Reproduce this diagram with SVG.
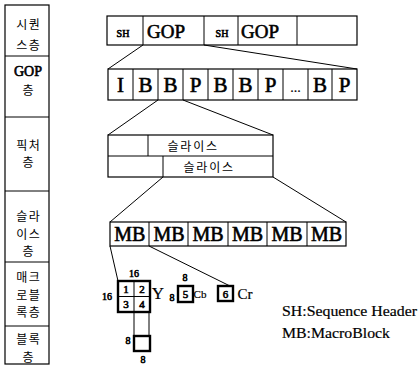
<svg xmlns="http://www.w3.org/2000/svg" width="420" height="366" viewBox="0 0 420 366">
<style>
.box{fill:#fff;stroke:#000;stroke-width:1.2}
.ln{stroke:#000;stroke-width:1;fill:none}
.thick{fill:#fff;stroke:#000;stroke-width:2.4}
.ko{font-family:"Noto Sans CJK KR","Noto Sans",sans-serif;font-size:12px;letter-spacing:1.5px;fill:#000;text-anchor:middle}
.la{font-family:"Liberation Serif","Times New Roman",serif;fill:#000;stroke:#000;stroke-width:0.6;text-anchor:middle}
.lr{font-family:"Liberation Serif","Times New Roman",serif;fill:#000;stroke:#000;stroke-width:0.2;text-anchor:middle}
.lg{font-family:"Liberation Serif","Times New Roman",serif;font-size:15px;fill:#000;stroke:#000;stroke-width:0.2}
</style>
<rect width="420" height="366" fill="#fff"/>

<g id="layers">
<rect class="box" x="5" y="5" width="44" height="359"/>
<line class="ln" x1="5" y1="56" x2="49" y2="56"/>
<line class="ln" x1="5" y1="117" x2="49" y2="117"/>
<line class="ln" x1="5" y1="191" x2="49" y2="191"/>
<line class="ln" x1="5" y1="262" x2="49" y2="262"/>
<line class="ln" x1="5" y1="326" x2="49" y2="326"/>
<text class="ko" x="28.75" y="29">시퀀</text>
<text class="ko" x="28.75" y="50">스층</text>
<text class="la" x="28" y="76" font-size="14">GOP</text>
<text class="ko" x="28.75" y="95">층</text>
<text class="ko" x="28.75" y="150">픽처</text>
<text class="ko" x="28.75" y="167">층</text>
<text class="ko" x="28.75" y="221">슬라</text>
<text class="ko" x="28.75" y="238.5">이스</text>
<text class="ko" x="28.75" y="256">층</text>
<text class="ko" x="28.75" y="282">매크</text>
<text class="ko" x="28.75" y="299.5">로블</text>
<text class="ko" x="28.75" y="317">록층</text>
<text class="ko" x="28.75" y="344">블록</text>
<text class="ko" x="28.75" y="361.5">층</text>
</g>

<g id="sequence">
<rect class="box" x="107" y="16" width="250" height="29"/>
<line class="ln" x1="143" y1="16" x2="143" y2="45"/>
<line class="ln" x1="204" y1="16" x2="204" y2="45"/>
<line class="ln" x1="238" y1="16" x2="238" y2="45"/>
<line class="ln" x1="297" y1="16" x2="297" y2="45"/>
<text class="la" x="123" y="37" font-size="10">SH</text>
<text class="la" x="166" y="38" font-size="19">GOP</text>
<text class="la" x="222" y="37" font-size="10">SH</text>
<text class="la" x="260" y="38" font-size="19">GOP</text>
</g>

<g id="gop">
<rect class="box" x="108" y="69" width="249" height="31"/>
<line class="ln" x1="133" y1="69" x2="133" y2="100"/>
<line class="ln" x1="158" y1="69" x2="158" y2="100"/>
<line class="ln" x1="183" y1="69" x2="183" y2="100"/>
<line class="ln" x1="208" y1="69" x2="208" y2="100"/>
<line class="ln" x1="233" y1="69" x2="233" y2="100"/>
<line class="ln" x1="258" y1="69" x2="258" y2="100"/>
<line class="ln" x1="283" y1="69" x2="283" y2="100"/>
<line class="ln" x1="308" y1="69" x2="308" y2="100"/>
<line class="ln" x1="332" y1="69" x2="332" y2="100"/>
<text class="la" x="120.5" y="92" font-size="21">I</text>
<text class="la" x="145.5" y="92" font-size="21">B</text>
<text class="la" x="170.5" y="92" font-size="21">B</text>
<text class="la" x="195.5" y="92" font-size="21">P</text>
<text class="la" x="220.5" y="92" font-size="21">B</text>
<text class="la" x="245.5" y="92" font-size="21">B</text>
<text class="la" x="270.5" y="92" font-size="21">P</text>
<text class="lr" x="295.5" y="92" font-size="14">...</text>
<text class="la" x="320" y="92" font-size="21">B</text>
<text class="la" x="344.5" y="92" font-size="21">P</text>
</g>

<g id="picture">
<rect class="box" x="108" y="135" width="165" height="42"/>
<line class="ln" x1="108" y1="156" x2="273" y2="156"/>
<line class="ln" x1="148" y1="135" x2="148" y2="156"/>
<line class="ln" x1="163" y1="156" x2="163" y2="177"/>
<text class="ko" x="193" y="151" font-size="12" letter-spacing="0" textLength="51">슬라이스</text>
<text class="ko" x="209" y="172" font-size="12" letter-spacing="0" textLength="51">슬라이스</text>
</g>

<g id="slice">
<rect class="box" x="110" y="222" width="236" height="24"/>
<line class="ln" x1="149" y1="222" x2="149" y2="246"/>
<line class="ln" x1="188" y1="222" x2="188" y2="246"/>
<line class="ln" x1="228" y1="222" x2="228" y2="246"/>
<line class="ln" x1="267" y1="222" x2="267" y2="246"/>
<line class="ln" x1="307" y1="222" x2="307" y2="246"/>
<text class="la" x="129.7" y="241" font-size="20">MB</text>
<text class="la" x="169" y="241" font-size="20">MB</text>
<text class="la" x="208" y="241" font-size="20">MB</text>
<text class="la" x="247.5" y="241" font-size="20">MB</text>
<text class="la" x="287" y="241" font-size="20">MB</text>
<text class="la" x="326.5" y="241" font-size="20">MB</text>
</g>

<g id="macroblock">
<rect class="thick" x="118" y="281" width="32" height="31"/>
<line class="ln" x1="134" y1="281" x2="134" y2="312" stroke-width="2.4"/>
<line class="ln" x1="118" y1="296.5" x2="150" y2="296.5" stroke-width="2.4"/>
<text class="la" x="126" y="293" font-size="11" stroke-width="0.4">1</text>
<text class="la" x="142" y="293" font-size="11" stroke-width="0.4">2</text>
<text class="la" x="126" y="308" font-size="11" stroke-width="0.4">3</text>
<text class="la" x="142" y="308" font-size="11" stroke-width="0.4">4</text>
<text class="la" x="134" y="277" font-size="10" stroke-width="0.4">16</text>
<text class="la" x="107" y="300" font-size="10" stroke-width="0.4">16</text>
<text class="lr" x="158" y="299" font-size="17">Y</text>
<rect class="thick" x="178" y="286" width="15" height="16"/>
<text class="la" x="185.5" y="298" font-size="11" stroke-width="0.4">5</text>
<text class="la" x="185" y="281" font-size="10" stroke-width="0.4">8</text>
<text class="la" x="172" y="301" font-size="10" stroke-width="0.4">8</text>
<text class="lr" x="200" y="298" font-size="11">Cb</text>
<rect class="thick" x="218" y="286" width="15" height="15"/>
<text class="la" x="225.5" y="298" font-size="11" stroke-width="0.4">6</text>
<text class="lr" x="245" y="299" font-size="15">Cr</text>
</g>

<g id="block">
<rect class="thick" x="134" y="336" width="16" height="15"/>
<text class="la" x="128" y="344" font-size="10" stroke-width="0.4">8</text>
<text class="la" x="143" y="363" font-size="10" stroke-width="0.4">8</text>
</g>

<g id="connectors">
<line class="ln" x1="143" y1="45" x2="108" y2="69"/>
<line class="ln" x1="204" y1="45" x2="357" y2="69"/>
<line class="ln" x1="158" y1="100" x2="108" y2="135"/>
<line class="ln" x1="183" y1="100" x2="273" y2="135"/>
<line class="ln" x1="163" y1="177" x2="110" y2="222"/>
<line class="ln" x1="273" y1="177" x2="346" y2="222"/>
<line class="ln" x1="110" y1="246" x2="118" y2="281"/>
<line class="ln" x1="149" y1="246" x2="230" y2="286"/>
<line class="ln" x1="134" y1="312" x2="134" y2="336"/>
<line class="ln" x1="149" y1="312" x2="149" y2="336"/>
</g>

<g id="legend">
<text class="lg" x="282" y="316" textLength="135" lengthAdjust="spacingAndGlyphs">SH:Sequence Header</text>
<text class="lg" x="282" y="338" textLength="108" lengthAdjust="spacingAndGlyphs">MB:MacroBlock</text>
</g>
</svg>
